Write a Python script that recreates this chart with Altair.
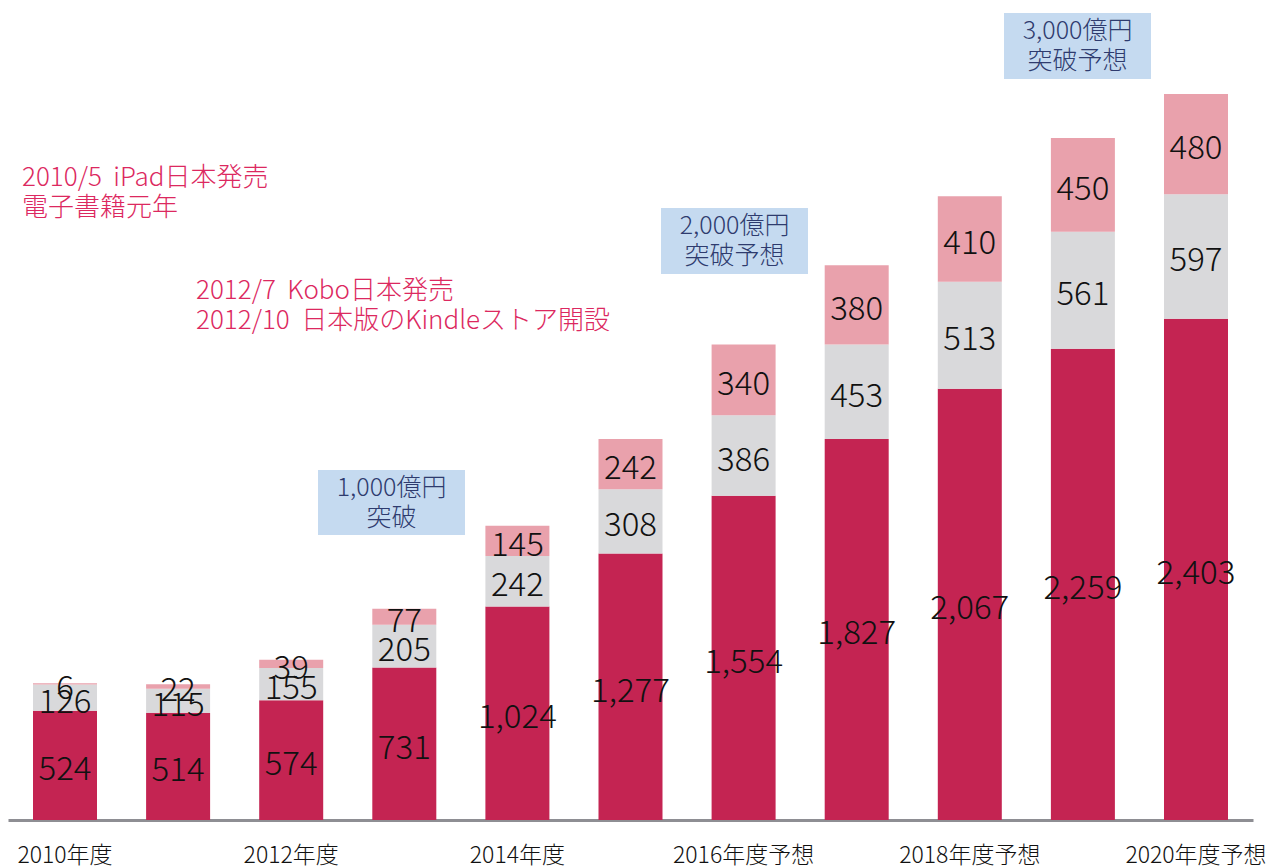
import altair as alt
import pandas as pd

years = ["2010", "2011", "2012", "2013", "2014", "2015", "2016", "2017", "2018", "2019", "2020"]
tick_labels = ["2010年度", "", "2012年度", "", "2014年度", "", "2016年度予想", "", "2018年度予想", "", "2020年度予想"]
series_names = ["電子コミック", "電子書籍(文字もの)", "電子雑誌"]
bottom_vals = [524, 514, 574, 731, 1024, 1277, 1554, 1827, 2067, 2259, 2403]
middle_vals = [126, 115, 155, 205, 242, 308, 386, 453, 513, 561, 597]
top_vals = [6, 22, 39, 77, 145, 242, 340, 380, 410, 450, 480]
colors = ["#C42452", "#D9D9DB", "#E9A1AC"]

rows = []
for i, y in enumerate(years):
    base = 0
    for s, vals in zip(series_names, [bottom_vals, middle_vals, top_vals]):
        v = vals[i]
        rows.append({"year": y, "series": s, "value": v, "y0": base, "y1": base + v,
                     "ymid": base + v / 2})
        base += v
df = pd.DataFrame(rows)

label_map = "{" + ",".join(f"'{y}':'{l}'" for y, l in zip(years, tick_labels)) + "}"

FONT = "Noto Sans CJK JP"
NB = "\u00a0\u00a0"

x_enc = alt.X("year:N", sort=years,
              scale=alt.Scale(paddingInner=0.434, paddingOuter=0.221),
              axis=alt.Axis(title=None, labelAngle=0, ticks=False, domainColor="#8E8E93",
                            domainWidth=3, labelFontSize=23, labelFont=FONT, labelColor="#111111",
                            labelFontWeight=300,
                            labelPadding=24, labelExpr=f"{label_map}[datum.value]"))
y_scale = alt.Scale(domain=[0, 3931], nice=False, zero=True)

bars = alt.Chart(df).mark_bar(size=64).encode(
    x=x_enc,
    y=alt.Y("y0:Q", scale=y_scale, axis=None),
    y2="y1:Q",
    color=alt.Color("series:N", scale=alt.Scale(domain=series_names, range=colors), legend=None),
)

labels = alt.Chart(df).mark_text(font=FONT, fontSize=33, fontWeight=300, color="#111111",
                                 align="center", baseline="middle", dy=5).encode(
    x=alt.X("year:N", sort=years),
    y=alt.Y("ymid:Q", scale=y_scale),
    text=alt.Text("value:Q", format=",d"),
)

one = pd.DataFrame({"a": [0]})

red1 = alt.Chart(one).mark_text(font=FONT, fontSize=26, fontWeight=300, color="#DC2860", align="left",
                                baseline="middle", lineHeight=30).encode(
    x=alt.value(14), y=alt.value(178),
    text=alt.value(["2010/5" + NB + "iPad日本発売", "電子書籍元年"]))
red2 = alt.Chart(one).mark_text(font=FONT, fontSize=26, fontWeight=300, color="#DC2860", align="left",
                                baseline="middle", lineHeight=30).encode(
    x=alt.value(188), y=alt.value(291),
    text=alt.value(["2012/7" + NB + "Kobo日本発売", "2012/10" + NB + "日本版のKindleストア開設"]))

boxes = []
for (x1, x2, y1, y2, lines) in [
    (310, 457, 470, 535, ["1,000億円", "突破"]),
    (653, 800, 208, 274, ["2,000億円", "突破予想"]),
    (996, 1143, 13, 79, ["3,000億円", "突破予想"]),
]:
    boxes.append(alt.Chart(one).mark_rect(color="#C5DAF0").encode(
        x=alt.value(x1), x2=alt.value(x2), y=alt.value(y1), y2=alt.value(y2)))
    boxes.append(alt.Chart(one).mark_text(font=FONT, fontSize=25, fontWeight=300, color="#2E3B6E",
                                          align="center", baseline="middle", lineHeight=30).encode(
        x=alt.value((x1 + x2) / 2), y=alt.value(y1 + 18), text=alt.value(lines)))

chart = alt.layer(bars, labels, red1, red2, *boxes).properties(
    width=1245, height=820,
    autosize=alt.AutoSizeParams(type="none"),
    padding={"left": 8, "top": 0, "right": 14, "bottom": 48},
    background="white",
).configure_view(stroke=None)

chart.save("out.html", embed_options={"renderer": "svg", "actions": False})
